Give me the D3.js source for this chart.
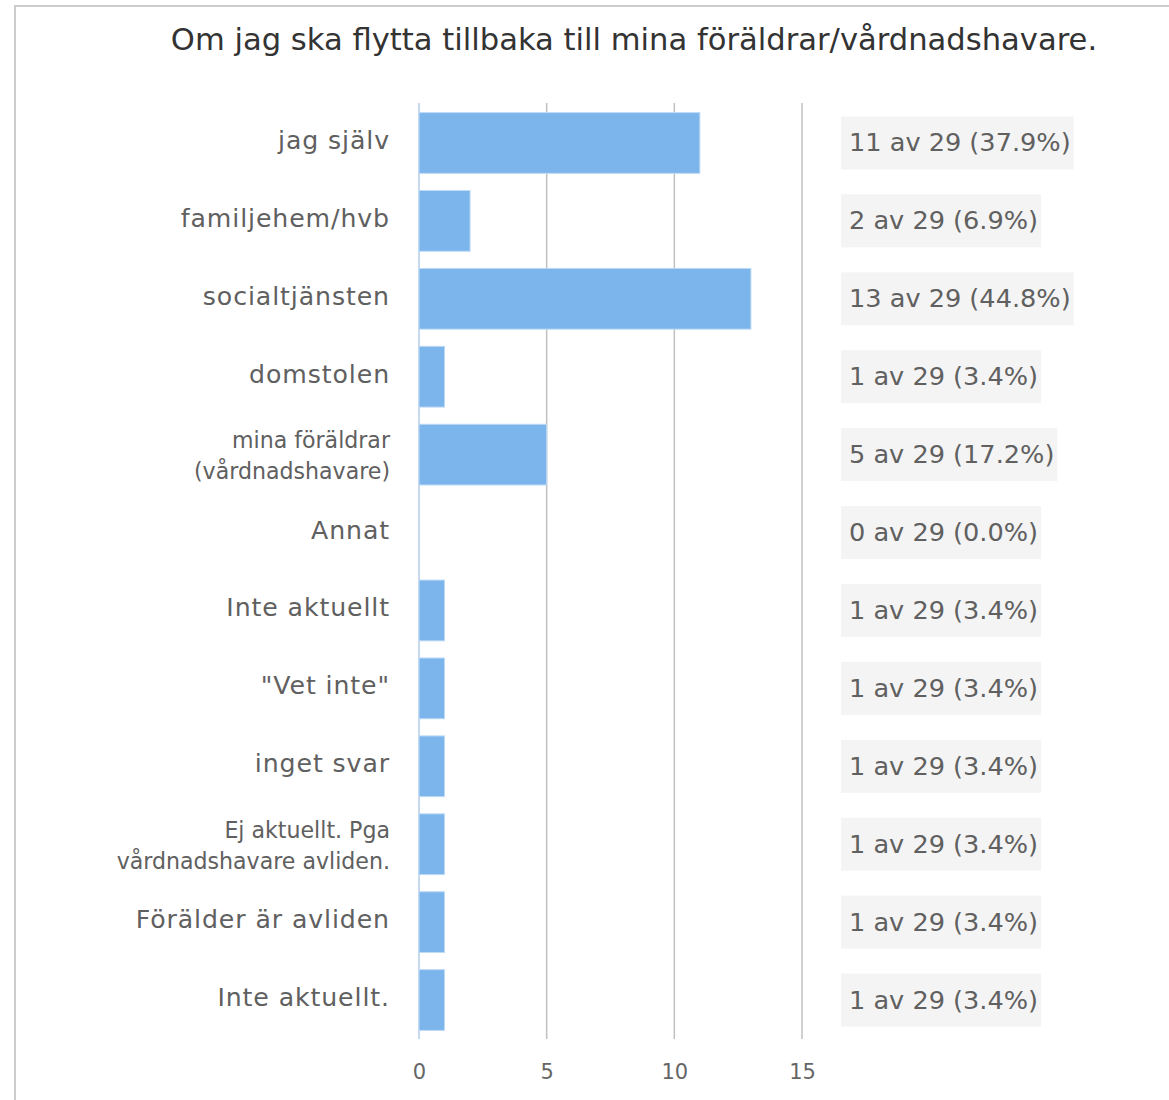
<!DOCTYPE html>
<html>
<head>
<meta charset="utf-8">
<script src="https://cdn.jsdelivr.net/npm/d3@7"></script>
<style>
  html, body { margin: 0; padding: 0; background: #fff; }
  svg { display: block; font-family: "DejaVu Sans", "Lucida Grande", sans-serif; }
</style>
</head>
<body>
<svg id="chart" width="1169" height="1100"></svg>
<script>
const title = 'Om jag ska flytta tillbaka till mina föräldrar/vårdnadshavare.';
const categories = [
  'jag själv',
  'familjehem/hvb',
  'socialtjänsten',
  'domstolen',
  'mina föräldrar (vårdnadshavare)',
  'Annat',
  'Inte aktuellt',
  '"Vet inte"',
  'inget svar',
  'Ej aktuellt. Pga vårdnadshavare avliden.',
  'Förälder är avliden',
  'Inte aktuellt.'
];
const counts = [11, 2, 13, 1, 5, 0, 1, 1, 1, 1, 1, 1];
const total = 29;
const xTicks = [0, 5, 10, 15];

const svg = d3.select('#chart');

// outer frame (runs off the right and bottom edge)
svg.append('rect')
  .attr('x', 15).attr('y', 6)
  .attr('width', 1300).attr('height', 1300)
  .attr('fill', 'none')
  .attr('stroke', '#cccccc')
  .attr('stroke-width', 2);

svg.append('text')
  .attr('x', 634).attr('y', 50)
  .attr('text-anchor', 'middle')
  .attr('fill', '#333333')
  .attr('font-size', 30.6)
  .text(title);

const x = d3.scaleLinear().domain([0, 15]).range([419, 802]);
const y = d3.scaleBand().domain(categories).range([104, 1039])
  .paddingInner(0.22).paddingOuter(0.11);

// grid
svg.append('g')
  .selectAll('line')
  .data(xTicks)
  .enter().append('line')
  .attr('x1', d => x(d)).attr('x2', d => x(d))
  .attr('y1', 103).attr('y2', 1039)
  .attr('stroke', d => d === 0 ? '#c6d9ef' : '#c0c0c0')
  .attr('stroke-width', d => d === 0 ? 2 : 1.5);

// x axis labels
const xAxis = svg.append('g')
  .attr('transform', 'translate(0,1058)')
  .call(d3.axisBottom(x).tickValues(xTicks).tickSize(0).tickPadding(0));
xAxis.select('.domain').remove();
xAxis.selectAll('text')
  .attr('dy', '0')
  .attr('y', 21)
  .attr('font-size', 21)
  .attr('font-family', '"DejaVu Sans", sans-serif')
  .attr('fill', '#666666');

// bars
svg.append('g')
  .selectAll('rect')
  .data(categories.map((c, i) => ({c, v: counts[i]})).filter(d => d.v > 0))
  .enter().append('rect')
  .attr('x', x(0))
  .attr('y', d => y(d.c))
  .attr('width', d => x(d.v) - x(0))
  .attr('height', y.bandwidth())
  .attr('fill', '#7cb5ec')
  .attr('stroke', '#bfdaf5')
  .attr('stroke-width', 1);

// category labels, long ones wrap onto two lines with a smaller font
function wrap(label, maxChars) {
  const words = label.split(' ');
  const lines = [];
  let cur = '';
  words.forEach(w => {
    const next = cur ? cur + ' ' + w : w;
    if (next.length > maxChars && cur) { lines.push(cur); cur = w; }
    else cur = next;
  });
  lines.push(cur);
  return lines;
}

const labels = svg.append('g');
categories.forEach(c => {
  const cy = y(c) + y.bandwidth() / 2;
  const long = c.length > 25;
  const lines = long ? wrap(c, 23) : [c];
  const fs = long ? 22.1 : 25.2;
  const lh = 31;
  const t = labels.append('text')
    .attr('text-anchor', 'end')
    .attr('fill', '#606060')
    .attr('font-size', fs)
    .attr('letter-spacing', long ? 0 : 0.9);
  lines.forEach((ln, j) => {
    t.append('tspan')
      .attr('x', 390)
      .attr('y', cy + (long ? 9 : 6) - (lines.length - 1) * lh / 2 + j * lh)
      .text(ln);
  });
});

// value boxes on the right
const boxes = svg.append('g');
categories.forEach((c, i) => {
  const cy = y(c) + y.bandwidth() / 2;
  const pct = (counts[i] / total * 100).toFixed(1);
  const g = boxes.append('g');
  const bg = g.append('rect')
    .attr('x', 841).attr('y', cy - 26.5)
    .attr('height', 53)
    .attr('fill', '#f4f4f4');
  const t = g.append('text')
    .attr('x', 849).attr('y', cy + 8.5)
    .attr('fill', '#606060')
    .attr('font-size', 25.6)
    .text(counts[i] + ' av ' + total + ' (' + pct + '%)');
  const w = t.node().getComputedTextLength();
  bg.attr('width', w + 11);
});
</script>
</body>
</html>
